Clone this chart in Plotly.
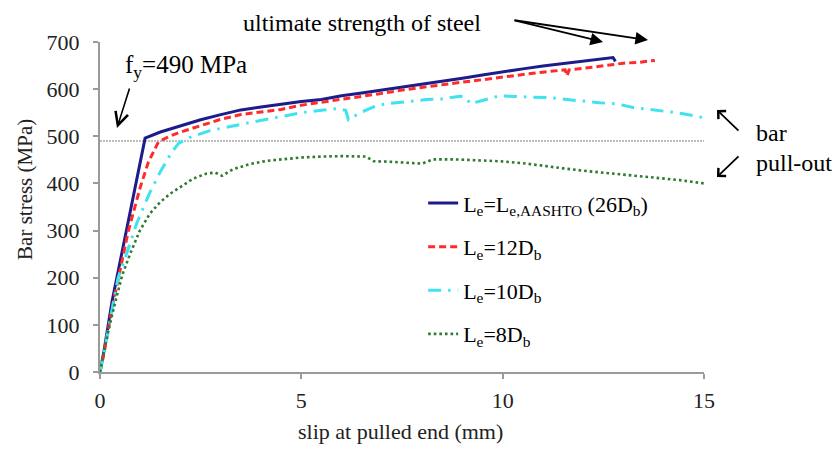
import plotly.graph_objects as go

# ---- data ----
FY = 490
ref_x = [0, 15]

blue_x = [0, 0.1, 0.3, 0.7, 1.12, 1.5, 2.0, 2.5, 3.0, 3.5, 4.0, 4.5, 5.0, 5.5, 6.0, 6.5,
          7.0, 7.5, 8.0, 8.5, 9.0, 9.5, 10.0, 10.5, 11.0, 11.5, 12.0, 12.5, 12.74, 12.8]
blue_y = [0, 45, 150, 320, 496, 509, 522, 535, 546, 556, 562, 568, 574, 578, 586, 592,
          598, 604, 610, 616, 623, 630, 637, 643, 649, 654, 659, 664, 667, 659]

red_x = [0, 0.1, 0.3, 0.55, 0.7, 1.0, 1.2, 1.45, 1.7, 2.0, 2.5, 3.0, 3.5, 4.0, 4.5, 5.0,
         5.5, 6.0, 6.5, 7.0, 7.5, 8.0, 8.5, 9.0, 9.5, 10.0, 10.5, 11.0, 11.55, 11.6, 11.65,
         12.0, 12.5, 13.0, 13.4, 13.78]
red_y = [0, 40, 135, 237, 298, 392, 445, 488, 499, 509, 522, 536, 546, 552, 557, 566,
         572, 578, 585, 591, 598, 604, 610, 615, 620, 626, 631, 636, 641, 628, 641,
         644, 649, 655, 657, 661]

cyan_x = [0, 0.1, 0.25, 0.45, 0.66, 0.91, 1.24, 1.5, 1.78, 1.95, 2.24, 2.73, 3.3, 3.9,
          4.55, 5.0, 5.5, 5.9, 6.1, 6.17, 6.3, 6.46, 6.87, 7.2, 7.7, 8.1, 8.5, 8.94, 9.1,
          9.19, 9.5, 9.93, 10.4, 10.76, 11.17, 11.6, 12.0, 12.4, 12.83, 13.24, 13.66,
          14.1, 14.48, 14.9, 15.0]
cyan_y = [0, 40, 110, 200, 251, 315, 381, 425, 466, 485, 498, 512, 522, 532,
          544, 550, 555, 559, 555, 535, 542, 550, 565, 570, 574, 578, 579, 585, 582,
          569, 576, 586, 584, 583, 582, 578, 574, 571, 569, 561, 557,
          552, 548, 541, 540]

green_x = [0, 0.1, 0.2, 0.39, 0.55, 0.75, 0.99, 1.24, 1.49, 1.74, 1.99, 2.31, 2.65, 2.86,
           3.03, 3.3, 3.72, 4.14, 4.64, 5.0, 5.5, 6.0, 6.6, 6.8, 7.2, 7.6, 8.0, 8.27, 8.8,
           9.4, 9.93, 10.5, 11.0, 11.5, 12.0, 12.6, 13.2, 13.8, 14.4, 15.0]
green_y = [0, 40, 85, 152, 205, 251, 300, 336, 360, 378, 392, 410, 421, 423,
           416, 430, 441, 448, 452, 455, 457, 458, 457, 447, 446, 444, 442, 451, 451,
           449, 447, 443, 437, 432, 427, 422, 417, 412, 407, 400]

series_names = [
    "L<sub>e</sub>=L<sub>e,AASHTO</sub> (26D<sub>b</sub>)",
    "L<sub>e</sub>=12D<sub>b</sub>",
    "L<sub>e</sub>=10D<sub>b</sub>",
    "L<sub>e</sub>=8D<sub>b</sub>",
]
x_ticks = [0, 5, 10, 15]
y_ticks = [0, 100, 200, 300, 400, 500, 600, 700]

SERIF = "Liberation Serif"

fig = go.Figure()

fig.add_trace(go.Scatter(x=ref_x, y=[FY, FY], mode="lines", showlegend=False,
                         line=dict(color="#a8a8a8", width=1.5, dash="2px,1px"),
                         hoverinfo="skip"))

styles = [
    dict(color="#1c1c8a", width=3, dash="solid"),
    dict(color="#ff2a2a", width=3, dash="7px,4px"),
    dict(color="#3fe3f0", width=3, dash="13px,7px,2.5px,7px"),
    dict(color="#2e7a2e", width=2.6, dash="2.6px,3px"),
]
data = [(blue_x, blue_y), (red_x, red_y), (cyan_x, cyan_y), (green_x, green_y)]
for i, ((xs, ys), name, st) in enumerate(zip(data, series_names, styles)):
    fig.add_trace(go.Scatter(x=xs, y=ys, mode="lines", name=name,
                             legendgroup=f"g{i}", line=st))

axis_common = dict(showline=True, linecolor="#9a9a9a", linewidth=2,
                   ticks="outside", tickcolor="#9a9a9a", ticklen=5, tickwidth=2,
                   showgrid=False, zeroline=False,
                   tickfont=dict(family=SERIF, size=22, color="#222"))

# the page adds an 8px body margin; the figure is sized to compensate
fig.update_layout(
    width=832, height=442,
    margin=dict(l=92, r=136, t=34, b=78, autoexpand=False),
    paper_bgcolor="white", plot_bgcolor="white",
    xaxis=dict(range=[0, 15], tickvals=x_ticks, ticklabelstandoff=3, **axis_common),
    yaxis=dict(range=[0, 700], tickvals=y_ticks, ticklabelstandoff=9, **axis_common),
    legend=dict(x=0.535, y=0.575, xanchor="left", yanchor="top",
                font=dict(family=SERIF, size=22, color="black"),
                tracegroupgap=12, bgcolor="rgba(255,255,255,0)"),
    showlegend=True,
)


def txt(text, x, y, size=25, xanchor="center", angle=0, color="black"):
    return dict(text=text, xref="paper", yref="paper", x=x, y=y, xanchor=xanchor,
                yanchor="middle", textangle=angle, showarrow=False,
                font=dict(family=SERIF, size=size, color=color))


def arrow(x, y, ax, ay, head, size, width):
    return dict(text="", xref="paper", yref="paper", x=x, y=y, ax=ax, ay=ay,
                showarrow=True, arrowhead=head, arrowsize=size, arrowwidth=width,
                arrowcolor="black")


annotations = [
    txt("slip at pulled end (mm)", 0.497, -0.18, size=22, color="#222"),
    txt("Bar stress (MPa)", -0.124, 0.552, size=21, angle=-90, color="#222"),
    txt("f<sub>y</sub>=490 MPa", 0.1424, 0.927),
    txt("ultimate strength of steel", 0.434, 1.058, size=24),
    txt("bar", 1.083, 0.724, size=24, xanchor="left"),
    txt("pull-out", 1.083, 0.633, size=24, xanchor="left"),
    arrow(0.0281, 0.7394, 13, -41, 5, 1.6, 1.6),
    arrow(0.8328, 1.0, -90, -22, 2, 1.4, 1.8),
    arrow(0.9073, 1.006, -135, -20, 2, 1.4, 1.8),
    arrow(1.0215, 0.7939, 23, 22, 4, 1.2, 1.8),
    arrow(1.0215, 0.5909, 23, -22, 4, 1.2, 1.8),
]
fig.update_layout(annotations=annotations)

fig.write_html("out.html")
